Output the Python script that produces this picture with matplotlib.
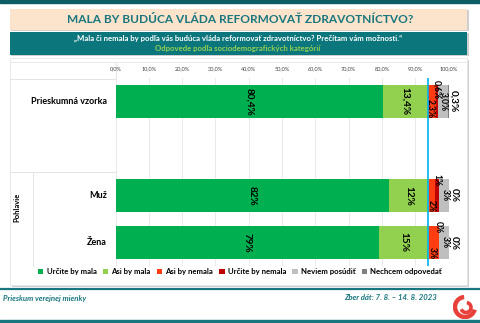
import matplotlib
matplotlib.use("Agg")
import matplotlib.pyplot as plt
from matplotlib.patches import Rectangle, Arc
from matplotlib.lines import Line2D

plt.rcParams['font.family'] = ['Lato', 'DejaVu Sans']

# data
rows = ['Prieskumná vzorka', '', 'Muž', 'Žena']
series = ['Určite by mala', 'Asi by mala', 'Asi by nemala', 'Určite by nemala',
          'Neviem posúdiť', 'Nechcem odpovedať']
values = [
    [80.4, 13.4, 2.3, 0.6, 3.0, 0.3],
    None,
    [82, 12, 2, 1, 3, 0],
    [79, 15, 3, 0, 3, 0],
]
labels = [
    ['80,4%', '13,4%', '2,3%', '0,6%', '3,0%', '0,3%'],
    None,
    ['82%', '12%', '2%', '1%', '3%', '0%'],
    ['79%', '15%', '3%', '0%', '3%', '0%'],
]
colors = ['#00b050', '#92d050', '#ff3d10', '#c00000', '#bfbfbf', '#808080']
ticks = [0, 10, 20, 30, 40, 50, 60, 70, 80, 90, 100]

W, H = 480, 323
fig = plt.figure(figsize=(4.8, 3.23), dpi=100)


def fx(x):
    return x / W


def fy(y):
    return 1 - y / H


teal = '#17767e'
# top bar and frames
fig.add_artist(Rectangle((0, fy(3)), 1, 3 / H, color='#0e5c66', transform=fig.transFigure))
fig.add_artist(Rectangle((fx(11), fy(31)), fx(458), 21 / H, facecolor='#cfcfcf',
                         edgecolor='none', transform=fig.transFigure))
fig.add_artist(Rectangle((fx(10), fy(30)), fx(457), 21 / H, facecolor='#fbe3cc',
                         edgecolor='none', transform=fig.transFigure))
fig.text(fx(240), fy(19.5), 'MALA BY BUDÚCA VLÁDA REFORMOVAŤ ZDRAVOTNÍCTVO?',
         ha='center', va='center', fontsize=8.6, fontweight='bold', color=teal)
fig.add_artist(Rectangle((fx(11), fy(56)), fx(458), 23 / H, facecolor='#cfcfcf',
                         edgecolor='none', transform=fig.transFigure))
fig.add_artist(Rectangle((fx(10), fy(55)), fx(457), 23 / H, facecolor='#0b777d',
                         edgecolor='none', transform=fig.transFigure))
fig.text(fx(238), fy(38.5), '„Mala či nemala by podľa vás budúca vláda reformovať zdravotníctvo? Prečítam vám možnosti.“',
         ha='center', va='center', fontsize=5.6, fontweight='bold', color='white')
fig.text(fx(238), fy(48), 'Odpovede podľa sociodemografických kategórií',
         ha='center', va='center', fontsize=5.6, fontweight='bold', color='#92d050')

# chart box
fig.add_artist(Rectangle((fx(12), fy(287)), fx(457), 227 / H, facecolor='#d0d0d0',
                         edgecolor='none', transform=fig.transFigure))
fig.add_artist(Rectangle((fx(10), fy(285)), fx(457), 227 / H, facecolor='white',
                         edgecolor='#e6e6e6', lw=0.6, transform=fig.transFigure))
for x0, x1, y in [(10, 115.5, 78.5), (10, 115.5, 172)]:
    fig.add_artist(Line2D([fx(x0), fx(x1)], [fy(y), fy(y)], color='#e0e0e0', lw=0.6))
fig.add_artist(Line2D([fx(115.5), fx(115.5)], [fy(62), fy(78.5)], color='#e0e0e0', lw=0.6))
fig.add_artist(Line2D([fx(33), fx(33)], [fy(172), fy(266)], color='#e0e0e0', lw=0.6))
fig.add_artist(Line2D([fx(10), fx(467)], [fy(62), fy(62)], color='#e8e8e8', lw=0.6))

ax = fig.add_axes([fx(115.5), fy(266), 333 / W, 188 / H])
ax.set_zorder(5)
ax.patch.set_alpha(0)
ax.set_xlim(0, 100)
ax.set_ylim(3.5, -0.5)
bh = 0.7
fs = 7.2
fs_small = 6.2
for i, (vals, labs) in enumerate(zip(values, labels)):
    if vals is None:
        continue
    left = 0
    for j, (v, lab) in enumerate(zip(vals, labs)):
        ax.barh(i, v, left=left, height=bh, color=colors[j],
                label=series[j] if i == 0 else None, zorder=2)
        if j < 2:
            ax.text(left + v / 2, i, lab, rotation=-90, ha='center', va='center',
                    fontsize=fs, fontweight='bold', zorder=4)
        elif j == 4:
            ax.text(left + v / 2 + 0.4, i, lab, rotation=-90, ha='center', va='center',
                    fontsize=fs_small, fontweight='bold', zorder=4)
        elif j == 2:
            ax.text(left + v / 2 - 0.3, i + bh / 2, lab, rotation=-90, ha='center', va='bottom',
                    fontsize=fs_small, fontweight='bold', zorder=4)
        elif j == 3:
            ax.text(left + v / 2, i - bh / 2 - 0.1, lab, rotation=-90, ha='center',
                    va='top', fontsize=fs_small, fontweight='bold', zorder=5)
        else:
            ax.text(101.6, i, lab, rotation=-90, ha='center', va='center',
                    fontsize=fs, fontweight='bold', zorder=4, clip_on=False)
        left += v

# blue line at the "should" share of the sample
ax.axvline(values[0][0] + values[0][1], ymin=0, ymax=1, color='#00b0f0', lw=1.2, zorder=6)

ax.set_xticks(ticks)
ax.set_xticklabels([f'{t},0%' for t in ticks], fontsize=4)
ax.xaxis.tick_top()
ax.tick_params(axis='x', length=0, pad=5, colors='#404040')
ax.set_yticks([])
ax.grid(axis='x', color='#e6e6e6', lw=0.6, zorder=0)
for s in ax.spines.values():
    s.set_visible(False)

for i, r in enumerate(rows):
    if r:
        fig.text(fx(107), fy(78 + 47 * i + 23.5), r, ha='right', va='center',
                 fontsize=6.5, fontweight='bold')
fig.text(fx(17), fy(207), 'Pohlavie', rotation=90, ha='center', va='center',
         fontsize=5.5, fontweight='bold')

fig.legend(loc='center', bbox_to_anchor=(fx(240), fy(271.5)), ncol=6, frameon=False,
           prop={'size': 5.6, 'weight': 'bold'}, handlelength=0.7, handleheight=0.7,
           handletextpad=0.4, columnspacing=0.8)

# footer
fig.add_artist(Line2D([0, 1], [fy(288.5), fy(288.5)], color=teal, lw=1.6))
fig.add_artist(Rectangle((0, 0), 1, 3 / H, color=teal, transform=fig.transFigure))
fig.text(fx(3), fy(298), 'Prieskum verejnej mienky', ha='left', va='center',
         fontsize=5.6, fontweight='bold', style='italic', color=teal)
fig.text(fx(437), fy(298), 'Zber dát: 7. 8. – 14. 8. 2023', ha='right', va='center',
         fontsize=5.6, fontweight='bold', style='italic', color=teal)

lg = fig.add_axes([fx(453), fy(319), 24 / W, 24 / H])
lg.set_zorder(5)
lg.set_xlim(-1.2, 1.2)
lg.set_ylim(-1.2, 1.2)
lg.set_aspect('equal')
lg.axis('off')
lg.add_patch(Arc((0, 0), 2.0, 2.0, theta1=95, theta2=345, lw=3.2, color='#e8413c'))
lg.add_patch(Arc((0.1, -0.05), 1.0, 1.0, theta1=200, theta2=80, lw=2.6, color='#e8413c'))

fig.savefig('out.png', dpi=100)
